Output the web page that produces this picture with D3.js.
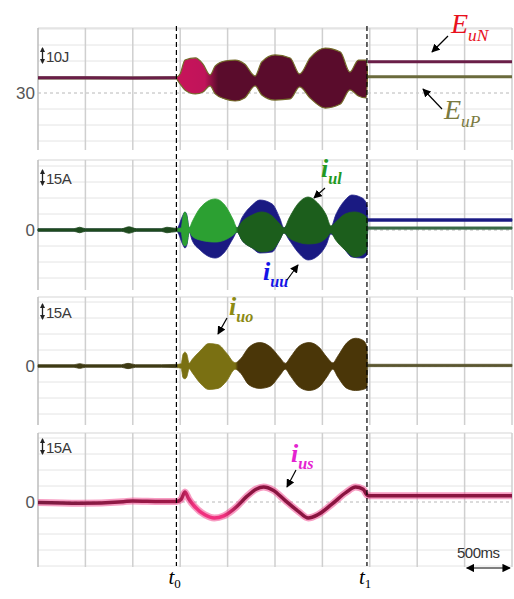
<!DOCTYPE html>
<html>
<head>
<meta charset="utf-8">
<script src="https://cdn.jsdelivr.net/npm/d3@7"></script>
<style>
  body { margin: 0; background: #fff; }
</style>
</head>
<body>
<svg id="chart" width="514" height="599"></svg>
<script>
// time in ms, 500 ms per division
const T0 = 1460;
const T1 = 3470;
const timeTicks = d3.range(0, 5001, 500);

// panel 1: energy, J  [ms, value]
const eUN = [[0, 39.5], [500, 39.6], [1000, 39.4], [1460, 39.5], [1460, null], [3480, 49.5], [5000, 49.5]];
const eUP = [[0, 39.3], [1460, 39.3], [1460, null], [3480, 40.2], [5000, 40.2]];
// burst envelope [ms, upper, lower]
const eBurst = [
  [1460, 39.8, 39.0], [1500, 42, 35.6], [1550, 50.6, 31.9], [1660, 51.9, 29.4], [1740, 48.1, 30.6],
  [1815, 41.3, 34.4], [1870, 46.9, 29.4], [1970, 50, 26.3], [2080, 50.6, 25], [2180, 48.1, 26.9],
  [2290, 40.6, 34.4], [2360, 49.4, 28.8], [2500, 53.8, 25.6], [2660, 51.9, 26.3], [2760, 41.9, 33.8],
  [2870, 51.9, 26.9], [3030, 58.1, 20.6], [3190, 55.6, 23.1], [3290, 43.1, 31.9], [3380, 50.6, 28.1],
  [3460, 50.6, 26.9], [3475, 45, 38]
];

// panel 2: arm currents, A  [ms, upper, lower]
const iuu = [
  [0, 0.9, -0.9], [1460, 0.9, -0.9], [1530, 14.1, -14.1], [1550, 16.9, -16.9], [1570, 14.1, -14.1],
  [1595, 1.9, -1.9], [1625, 4.7, -9.4], [1710, 14.1, -18.8], [1870, 18.8, -26.3], [1970, 15, -20.6],
  [2060, 5.6, -7.5], [2100, 1.9, -1.9], [2150, 11.3, -9.4], [2260, 23.4, -16.9], [2340, 28.1, -21.6],
  [2470, 24.4, -20.6], [2550, 11.3, -9.4], [2595, 1.9, -2.8], [2650, 7.5, -9.4], [2740, 16.9, -20.6],
  [2850, 21.6, -28.1], [2950, 18.8, -24.4], [3040, 9.4, -14.1], [3090, 2.8, -3.8], [3140, 14.1, -7.5],
  [3240, 28.1, -18.8], [3310, 32.8, -25.3], [3420, 30, -26.3], [3470, 23.4, -23.4],
  [3480, 10.6, 8.1], [5000, 10.6, 8.1]
];
const iul = [
  [0, 1.2, -1.2], [380, 1.2, -1.2], [440, 2.6, -2.6], [500, 1.2, -1.2], [880, 1.2, -1.2],
  [960, 3, -3], [1040, 1.2, -1.2], [1300, 1.2, -1.2], [1360, 2.6, -2.6], [1460, 1.5, -1.5],
  [1510, 1.9, -1.9], [1530, 13.1, -13.1], [1550, 16.9, -15], [1570, 13.1, -13.1], [1595, 1.9, -1.9],
  [1625, 7.5, -5.6], [1710, 20.6, -9.4], [1870, 29.1, -11.3], [1970, 23.4, -9.4], [2060, 9.4, -4.7],
  [2100, 1.9, -1.9], [2150, 7.5, -9.4], [2260, 14.1, -16.9], [2360, 16.9, -20.6], [2470, 13.1, -18.8],
  [2550, 5.6, -9.4], [2595, 1.9, -2.8], [2650, 11.3, -7.5], [2740, 24.4, -11.3], [2850, 30.9, -13.1],
  [2950, 25.3, -12.2], [3040, 14.1, -7.5], [3090, 3.8, -2.8], [3140, 7.5, -9.4], [3240, 15, -18.8],
  [3340, 16.9, -25.3], [3420, 15, -23.4], [3470, 11.3, -18.8],
  [3480, 2.9, 0.8], [5000, 2.9, 0.8]
];

// panel 3: circulating current, A  [ms, upper, lower]
const iuo = [
  [0, 1.2, -1.2], [380, 1.2, -1.2], [440, 2.2, -2.2], [500, 1.2, -1.2], [880, 1.2, -1.2],
  [950, 2.5, -2.5], [1030, 1.2, -1.2], [1300, 1.2, -1.2], [1460, 1.5, -1.5],
  [1510, 2, -2], [1530, 11, -11], [1550, 13, -12], [1570, 11, -10], [1595, 2.5, -2.5],
  [1625, 6, -6], [1710, 14, -16], [1800, 21, -22], [1900, 20, -21], [1990, 12, -14], [2080, 3, -3],
  [2130, 6, -6], [2230, 18, -18], [2340, 22, -21], [2450, 18, -19], [2550, 8, -9], [2610, 2.5, -3],
  [2660, 8, -9], [2760, 19, -20], [2860, 22, -23], [2960, 18, -20], [3050, 8, -10], [3110, 3, -3],
  [3160, 9, -10], [3260, 22, -21], [3350, 26, -23], [3430, 24, -22], [3470, 18, -20],
  [3480, 1.6, -0.6], [5000, 1.6, -0.6]
];

// panel 4: output current, A  [ms, value]
const ius = [
  [0, -0.5], [440, -1.2], [900, 0.3], [1000, 1.0], [1300, 0.5], [1460, 0.5], [1510, 2.5],
  [1550, 9.4], [1590, 3], [1650, -4], [1760, -12], [1860, -15], [1960, -13], [2100, -4],
  [2200, 5], [2300, 12], [2380, 14], [2480, 11], [2600, 2], [2750, -9], [2850, -15],
  [2950, -12], [3100, -2], [3250, 9], [3350, 14], [3430, 12], [3470, 6.6], [3490, 5.8], [5000, 5.8]
];

const scaleLabels = ['10J', '15A', '15A', '15A'];
const refLabels = ['30', '0', '0', '0'];

const svg = d3.select('#chart');
const defs = svg.append('defs');
const x = d3.scaleLinear().domain([0, 5000]).range([38, 512]);

const pxDiv = 16;
const panels = [
  {top: 28, bottom: 150, refPx: 93, refVal: 30, perDiv: 10, labelY: 62},
  {top: 160, bottom: 290, refPx: 230, refVal: 0, perDiv: 15, labelY: 184},
  {top: 297, bottom: 425, refPx: 366, refVal: 0, perDiv: 15, labelY: 318},
  {top: 433, bottom: 567, refPx: 502, refVal: 0, perDiv: 15, labelY: 453}
];
panels.forEach(p => {
  const u = p.perDiv / pxDiv;
  p.y = d3.scaleLinear()
    .domain([p.refVal - (p.bottom - p.refPx) * u, p.refVal + (p.refPx - p.top) * u])
    .range([p.bottom, p.top]);
});

defs.append('marker').attr('id', 'ah').attr('viewBox', '0 0 10 10')
  .attr('refX', 9).attr('refY', 5).attr('markerWidth', 7).attr('markerHeight', 7)
  .attr('orient', 'auto-start-reverse')
  .append('path').attr('d', 'M0,0 L10,5 L0,10 z').attr('fill', '#000');
defs.append('marker').attr('id', 'ahs').attr('viewBox', '0 0 10 10')
  .attr('refX', 8).attr('refY', 5).attr('markerWidth', 4).attr('markerHeight', 4)
  .attr('orient', 'auto-start-reverse')
  .append('path').attr('d', 'M0,0 L10,5 L0,10 z').attr('fill', '#222');

// grid
panels.forEach((p, i) => {
  const g = svg.append('g');
  const [lo, hi] = p.y.domain();
  const hLines = d3.range(Math.ceil((lo - p.refVal) / p.perDiv), Math.floor((hi - p.refVal) / p.perDiv) + 1)
    .map(k => p.refVal + k * p.perDiv)
    .filter(v => v !== p.refVal);
  g.selectAll('.h').data(hLines).enter().append('line')
    .attr('x1', 38).attr('x2', 512)
    .attr('y1', d => p.y(d)).attr('y2', d => p.y(d))
    .attr('stroke', '#e4e4e4').attr('stroke-width', 1);
  g.append('line')
    .attr('x1', 38).attr('x2', 512).attr('y1', p.top).attr('y2', p.top)
    .attr('stroke', '#d6d6d6').attr('stroke-width', 1.2);
  g.append('line')
    .attr('x1', 38).attr('x2', 512).attr('y1', p.y(p.refVal)).attr('y2', p.y(p.refVal))
    .attr('stroke', '#b8b8b8').attr('stroke-width', 1).attr('stroke-dasharray', '3,3');
  g.selectAll('.v').data(timeTicks).enter().append('line')
    .attr('x1', d => x(d)).attr('x2', d => x(d))
    .attr('y1', p.top).attr('y2', p.bottom)
    .attr('stroke', (d, j) => j === 0 ? '#bdbdbd' : '#cfcfcf').attr('stroke-width', 1.5);

  // scale indicator
  g.append('line')
    .attr('x1', 42.5).attr('x2', 42.5).attr('y1', p.labelY - 14).attr('y2', p.labelY + 1)
    .attr('stroke', '#222').attr('stroke-width', 1.3)
    .attr('marker-start', 'url(#ahs)').attr('marker-end', 'url(#ahs)');
  g.append('text')
    .attr('x', 46).attr('y', p.labelY)
    .attr('font-family', 'Liberation Sans, Arial, sans-serif').attr('font-size', 15)
    .attr('letter-spacing', -0.5)
    .attr('fill', '#3a3a3a').text(scaleLabels[i]);
  g.append('text')
    .attr('x', 35).attr('y', p.y(p.refVal)).attr('dy', '0.36em')
    .attr('text-anchor', 'end')
    .attr('font-family', 'Liberation Sans, Arial, sans-serif').attr('font-size', 17)
    .attr('fill', '#555').text(refLabels[i]);
});

function grad(id, stops) {
  const lg = defs.append('linearGradient').attr('id', id)
    .attr('gradientUnits', 'userSpaceOnUse')
    .attr('x1', 38).attr('x2', 512).attr('y1', 0).attr('y2', 0);
  stops.forEach(([ms, c]) => lg.append('stop').attr('offset', (x(ms) - 38) / 474).attr('stop-color', c));
}
grad('gE', [[0, '#5c1030'], [1460, '#c8145a'], [1760, '#c0145a'], [1900, '#5a0c2c'], [5000, '#5a0c2c']]);
grad('gL', [[0, '#1e4a1e'], [1460, '#1e4a1e'], [1480, '#2ca032'], [2080, '#2ca032'], [2110, '#1c5e1c'],
            [3470, '#1c5e1c'], [3480, '#3a6a48'], [5000, '#3a6a48']]);
grad('gO', [[0, '#3e3a14'], [1460, '#3e3a14'], [1480, '#7a7012'], [2080, '#7a7012'], [2110, '#4a3608'],
            [3470, '#4a3608'], [3480, '#5a5630'], [5000, '#5a5630']]);
grad('gS', [[0, '#7a1a40'], [1500, '#a01848'], [1650, '#f0307e'], [1960, '#f0307e'], [2150, '#8a1440'], [5000, '#8a1440']]);

function band(p) {
  return d3.area().x(d => x(d[0])).y0(d => p.y(d[2])).y1(d => p.y(d[1])).curve(d3.curveMonotoneX);
}
function trace(p) {
  return d3.line().defined(d => d[1] != null).x(d => x(d[0])).y(d => p.y(d[1]));
}

// panel 1
const P1 = panels[0];
svg.append('path').attr('d', trace(P1)(eUP)).attr('fill', 'none')
  .attr('stroke', '#6b6b3c').attr('stroke-width', 3);
svg.append('path').attr('d', trace(P1)(eUN)).attr('fill', 'none')
  .attr('stroke', '#6a1e48').attr('stroke-width', 3);
svg.append('path').attr('d', band(P1)(eBurst))
  .attr('fill', 'url(#gE)').attr('stroke', '#746a2a').attr('stroke-width', 1.2);

// panel 2
const P2 = panels[1];
svg.append('path').attr('d', band(P2)(iuu))
  .attr('fill', '#1a1a82').attr('stroke', '#22228a').attr('stroke-width', 0.8);
svg.append('path').attr('d', band(P2)(iul))
  .attr('fill', 'url(#gL)').attr('stroke', 'url(#gL)').attr('stroke-width', 0.8);

// panel 3
const P3 = panels[2];
svg.append('path').attr('d', band(P3)(iuo))
  .attr('fill', 'url(#gO)').attr('stroke', 'url(#gO)').attr('stroke-width', 0.8);

// panel 4
const P4 = panels[3];
svg.append('path').attr('d', trace(P4).curve(d3.curveMonotoneX)(ius)).attr('fill', 'none')
  .attr('stroke', '#f04a90').attr('stroke-opacity', 0.55).attr('stroke-width', 7);
svg.append('path').attr('d', trace(P4).curve(d3.curveMonotoneX)(ius)).attr('fill', 'none')
  .attr('stroke', 'url(#gS)').attr('stroke-width', 3.5);

// t0 / t1 markers
[T0, T1].forEach(t => {
  svg.append('line')
    .attr('x1', x(t)).attr('x2', x(t)).attr('y1', 26).attr('y2', 566)
    .attr('stroke', '#000').attr('stroke-width', 1.2).attr('stroke-dasharray', '5,3');
});
[[T0, '0'], [T1, '1']].forEach(([t, s]) => {
  const tx = svg.append('text').attr('x', x(t) - 8).attr('y', 584)
    .attr('font-family', 'Liberation Serif, Times New Roman, serif').attr('font-size', 21);
  tx.append('tspan').attr('font-style', 'italic').text('t');
  tx.append('tspan').attr('font-size', 13).attr('dy', 4).text(s);
});

function arrow(x1, y1, x2, y2) {
  svg.append('line').attr('x1', x1).attr('y1', y1).attr('x2', x2).attr('y2', y2)
    .attr('stroke', '#000').attr('stroke-width', 1.2).attr('marker-end', 'url(#ah)');
}
function label(lx, ly, main, sub, color, size, bold) {
  const t = svg.append('text').attr('x', lx).attr('y', ly)
    .attr('font-family', 'Liberation Serif, Times New Roman, serif')
    .attr('font-style', 'italic').attr('font-weight', bold ? 'bold' : 'normal')
    .attr('fill', color);
  t.append('tspan').attr('font-size', size).text(main);
  t.append('tspan').attr('font-size', size * 0.62).attr('dy', size * 0.28).text(sub);
}

label(451, 33, 'E', 'uN', '#e8101c', 28, false);
arrow(448, 36, 432, 52);
label(444, 119, 'E', 'uP', '#7a7a3e', 28, false);
arrow(442, 109, 423, 89);
label(321, 177, 'i', 'ul', '#229922', 26, true);
arrow(325, 188, 314, 198);
label(263, 280, 'i', 'uu', '#1414e6', 26, true);
arrow(287, 280, 298, 265);
label(229, 315, 'i', 'uo', '#8c8a12', 26, true);
arrow(227, 318, 218, 334);
label(291, 462, 'i', 'us', '#e423d0', 26, true);
arrow(296, 470, 287, 487);

// time scale bar
svg.append('text').attr('x', 457).attr('y', 558)
  .attr('font-family', 'Liberation Sans, Arial, sans-serif').attr('font-size', 15)
  .attr('letter-spacing', -0.5)
  .attr('fill', '#333').text('500ms');
svg.append('line')
  .attr('x1', x(4500) + 2).attr('x2', x(5000) - 2).attr('y1', 568).attr('y2', 568)
  .attr('stroke', '#000').attr('stroke-width', 1.2)
  .attr('marker-start', 'url(#ah)').attr('marker-end', 'url(#ah)');
</script>
</body>
</html>
